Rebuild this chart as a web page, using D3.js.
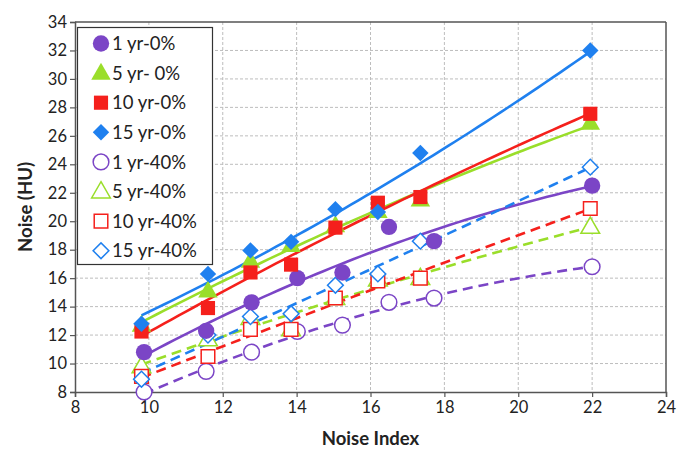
<!DOCTYPE html>
<html><head><meta charset="utf-8">
<script src="https://cdn.jsdelivr.net/npm/d3@7"></script>
<style>body{margin:0;background:#fff}</style>
</head><body><svg id="c" width="691" height="462"></svg>
<script>
const xA = [9.8, 11.6, 12.75, 13.85, 15.05, 16.2, 17.35, 21.95];
const xB = [9.87, 11.55, 12.78, 14.02, 15.24, 16.5, 17.72, 22.0];
const seriesNames = ["1 yr-0%","5 yr- 0%","10 yr-0%","15 yr-0%","1 yr-40%","5 yr-40%","10 yr-40%","15 yr-40%"];
const y1yr0  = [10.8, 12.3, 14.3, 16.0, 16.4, 19.6, 18.6, 22.5];
const y5yr0  = [12.7, 15.1, 17.2, 18.3, 19.7, 20.7, 21.5, 26.9];
const y10yr0 = [12.25, 13.9, 16.4, 16.95, 19.55, 21.3, 21.7, 27.55];
const y15yr0 = [12.8, 16.3, 17.95, 18.55, 20.85, 20.65, 24.8, 32.0];
const y1yr40  = [8.0, 9.45, 10.8, 12.25, 12.7, 14.3, 14.6, 16.8];
const y5yr40  = [9.8, 11.7, 13.2, 12.4, 14.6, 15.9, 16.0, 19.6];
const y10yr40 = [9.1, 10.5, 12.4, 12.4, 14.6, 15.8, 16.0, 20.9];
const y15yr40 = [8.9, 12.0, 13.3, 13.5, 15.5, 16.3, 18.6, 23.8];
const xTicks = [8,10,12,14,16,18,20,22,24];
const yTicks = [8,10,12,14,16,18,20,22,24,26,28,30,32,34];

const colors = ["#7b45c6","#9ade2a","#f5201c","#1f80ef"];
const series = [
  {name:seriesNames[0], xs:xB, ys:y1yr0, c:0, shape:"circle", fill:true},
  {name:seriesNames[1], xs:xA, ys:y5yr0, c:1, shape:"triangle", fill:true},
  {name:seriesNames[2], xs:xA, ys:y10yr0, c:2, shape:"square", fill:true},
  {name:seriesNames[3], xs:xA, ys:y15yr0, c:3, shape:"diamond", fill:true},
  {name:seriesNames[4], xs:xB, ys:y1yr40, c:0, shape:"circle", fill:false},
  {name:seriesNames[5], xs:xA, ys:y5yr40, c:1, shape:"triangle", fill:false},
  {name:seriesNames[6], xs:xA, ys:y10yr40, c:2, shape:"square", fill:false},
  {name:seriesNames[7], xs:xA, ys:y15yr40, c:3, shape:"diamond", fill:false},
];

const L=75, R=666, T=22, B=392;
const x = d3.scaleLinear().domain([8,24]).range([L,R]);
const y = d3.scaleLinear().domain([8,34]).range([B,T]);
const svg = d3.select("#c");
const font = "Lato, 'Open Sans', sans-serif";

// grid
const g = svg.append("g");
g.selectAll(".gx").data(xTicks.slice(1,-1)).enter().append("line")
  .attr("x1",d=>x(d)).attr("x2",d=>x(d)).attr("y1",T).attr("y2",B)
  .attr("stroke","#bdbdbd").attr("stroke-dasharray","3,2").attr("stroke-width",1);
g.selectAll(".gy").data(yTicks.slice(1,-1)).enter().append("line")
  .attr("y1",d=>y(d)).attr("y2",d=>y(d)).attr("x1",L).attr("x2",R)
  .attr("stroke","#bdbdbd").attr("stroke-dasharray","3,2").attr("stroke-width",1);

// axes
const xAxis = d3.axisBottom(x).tickValues(xTicks).tickSize(5).tickPadding(4);
const yAxis = d3.axisLeft(y).tickValues(yTicks).tickSize(5).tickPadding(3);
const gx = svg.append("g").attr("transform",`translate(0,${B})`).call(xAxis);
const gy = svg.append("g").attr("transform",`translate(${L},0)`).call(yAxis);
[gx,gy].forEach(a=>{
  a.select(".domain").attr("stroke","#555").attr("stroke-width",1.5);
  a.selectAll(".tick line").attr("stroke","#555").attr("stroke-width",1.2);
  a.selectAll("text").attr("font-family",font).attr("font-size",16.5).attr("fill","#222");
});
svg.append("line").attr("x1",L).attr("x2",R).attr("y1",T).attr("y2",T).attr("stroke","#555").attr("stroke-width",1.5);
svg.append("line").attr("x1",R).attr("x2",R).attr("y1",T).attr("y2",B).attr("stroke","#555").attr("stroke-width",1.5);

// 2nd-order polynomial trend lines (least squares)
function polyFit(xs, ys){
  const n = xs.length;
  let S=[0,0,0,0,0], Ty=[0,0,0];
  for(let i=0;i<n;i++){
    for(let k=0;k<5;k++) S[k]+=Math.pow(xs[i],k);
    for(let k=0;k<3;k++) Ty[k]+=ys[i]*Math.pow(xs[i],k);
  }
  const M=[[S[0],S[1],S[2],Ty[0]],[S[1],S[2],S[3],Ty[1]],[S[2],S[3],S[4],Ty[2]]];
  for(let c=0;c<3;c++){
    let p=c; for(let r=c+1;r<3;r++) if(Math.abs(M[r][c])>Math.abs(M[p][c])) p=r;
    [M[c],M[p]]=[M[p],M[c]];
    for(let r=0;r<3;r++){ if(r===c) continue; const f=M[r][c]/M[c][c]; for(let k=c;k<4;k++) M[r][k]-=f*M[c][k]; }
  }
  const a0=M[0][3]/M[0][0], a1=M[1][3]/M[1][1], a2=M[2][3]/M[2][2];
  return v => a0 + a1*v + a2*v*v;
}
const line = d3.line().x(d=>x(d[0])).y(d=>y(d[1]));
series.forEach(s=>{
  const f = polyFit(s.xs, s.ys);
  const x0 = d3.min(s.xs), x1 = d3.max(s.xs);
  const pts = d3.range(0,61).map(i=>{const v=x0+(x1-x0)*i/60; return [v,f(v)];});
  svg.append("path").attr("d",line(pts)).attr("fill","none")
    .attr("stroke",colors[s.c]).attr("stroke-width",2.6)
    .attr("stroke-dasharray", s.fill? null : "10,6");
});

// markers
function shapePath(shape, size){
  const sym = {circle:d3.symbolCircle, triangle:d3.symbolTriangle, square:d3.symbolSquare, diamond:d3.symbolSquare}[shape];
  return d3.symbol().type(sym).size(size)();
}
const sizes = {circle:210, triangle:165, square:200, diamond:135};
function drawMarker(sel, s, cx, cy){
  let tr = `translate(${cx},${cy})`;
  if(s.shape==="triangle") tr += " translate(0,1)";
  if(s.shape==="diamond") tr += " rotate(45)";
  sel.append("path").attr("d",shapePath(s.shape, s.fill?sizes[s.shape]:sizes[s.shape]*0.92))
    .attr("transform",tr)
    .attr("fill", s.fill? colors[s.c] : "#fff")
    .attr("stroke", colors[s.c]).attr("stroke-width", s.fill?0:1.5);
}
const order = [4,5,6,7,0,1,2,3];
order.forEach(i=>{
  const s = series[i];
  s.xs.forEach((xv,j)=>{ drawMarker(svg, s, x(xv), y(s.ys[j])); });
});

// legend
const lg = svg.append("g");
lg.append("rect").attr("x",77.5).attr("y",27.5).attr("width",135).attr("height",237)
  .attr("fill","#fff").attr("stroke","#333").attr("stroke-width",1.2);
series.forEach((s,i)=>{
  const cy = 43.5 + i*29.6;
  drawMarker(lg, s, 101, cy);
  lg.append("text").attr("x",112).attr("y",cy).attr("dy","0.36em")
    .attr("font-family",font).attr("font-size",18.5).attr("fill","#222").text(s.name);
});

// axis titles
svg.append("text").attr("x",(L+R)/2).attr("y",445).attr("text-anchor","middle")
  .attr("font-family",font).attr("font-weight","bold").attr("font-size",18.5).attr("fill","#222").text("Noise Index");
svg.append("text").attr("transform",`translate(32,${(T+B)/2}) rotate(-90)`).attr("text-anchor","middle")
  .attr("font-family",font).attr("font-weight","bold").attr("font-size",18.5).attr("fill","#222").text("Noise (HU)");
</script></body></html>
